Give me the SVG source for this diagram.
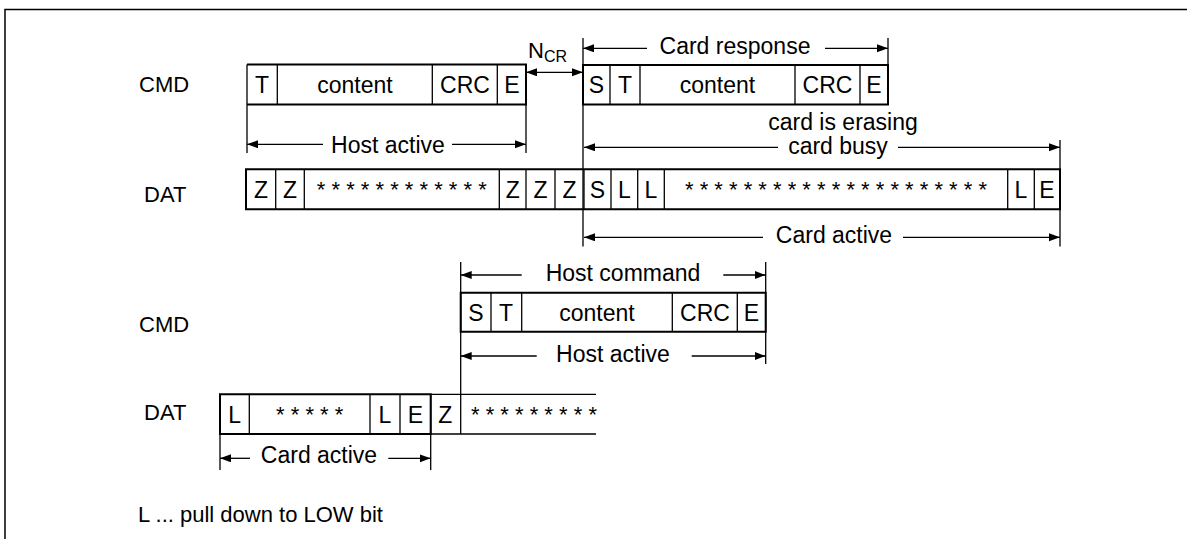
<svg xmlns="http://www.w3.org/2000/svg" width="1187" height="539" viewBox="0 0 1187 539">
<style>
text{font-family:"Liberation Sans",Arial,sans-serif;font-size:22px;fill:#000}
.c{text-anchor:middle}
.al{font-size:23px}
.bx{font-size:23px}
.box{fill:none;stroke:#000;stroke-width:2}
.div{stroke:#000;stroke-width:1.3}
.ln{stroke:#000;stroke-width:1.3;fill:none}
.frame{stroke:#000;stroke-width:1.5;fill:none}
.sub{font-size:16px}
</style>
<defs>
<marker id="ah" markerUnits="userSpaceOnUse" markerWidth="12" markerHeight="10" refX="11" refY="4" orient="auto-start-reverse">
<path d="M0,0 L11,4 L0,8 z" fill="#000"/>
</marker>
</defs>
<rect width="1187" height="539" fill="#fff"/>
<path class="frame" d="M5,539 V9.5 H1187"/>

<g id="labels">
<text x="139" y="91.7">CMD</text>
<text x="144" y="201.7">DAT</text>
<text x="139" y="331.7">CMD</text>
<text x="144" y="420">DAT</text>
<text x="138" y="521.7">L ... pull down to LOW bit</text>
</g>

<g id="cmd1">
<path class="ln" d="M247,64.5 V153 M526,64.5 V153"/>
<path class="box" d="M247,64.5 H526 V104.5 H247"/>
<path class="div" d="M277.3,64.5 V104.5 M432.3,64.5 V104.5 M497.3,64.5 V104.5"/>
<text class="c bx" x="262" y="93">T</text>
<text class="c bx" x="355" y="93">content</text>
<text class="c bx" x="465" y="93">CRC</text>
<text class="c bx" x="512" y="93">E</text>
</g>

<g id="ncr">
<text x="528" y="58.3">N<tspan class="sub" dy="3.4">CR</tspan></text>
</g>

<g id="cmd2">
<path class="ln" d="M583,38 V246.5 M888,38 V104.5"/>
<path class="box" d="M583,65 H888 V104.5 H583 Z"/>
<path class="div" d="M610,65 V104.5 M640,65 V104.5 M795,65 V104.5 M860,65 V104.5"/>
<text class="c bx" x="596.5" y="93">S</text>
<text class="c bx" x="625" y="93">T</text>
<text class="c bx" x="717.5" y="93">content</text>
<text class="c bx" x="827.5" y="93">CRC</text>
<text class="c bx" x="874" y="93">E</text>
</g>

<g id="dat1">
<path class="ln" d="M1060,140 V246.5"/>
<path class="box" d="M246,169.3 H1060 V209.3 H246 Z"/>
<path class="div" d="M275.7,169.3 V209.3 M304.3,169.3 V209.3 M499.3,169.3 V209.3 M526,169.3 V209.3 M555,169.3 V209.3 M584,169.3 V209.3 M611,169.3 V209.3 M637.7,169.3 V209.3 M664.3,169.3 V209.3 M1007.7,169.3 V209.3 M1034.3,169.3 V209.3"/>
<text class="c bx" x="261" y="197.5">Z</text>
<text class="c bx" x="290" y="197.5">Z</text>
<text class="c" x="401.8" y="197">* * * * * * * * * * * *</text>
<text class="c bx" x="512.7" y="197.5">Z</text>
<text class="c bx" x="540.5" y="197.5">Z</text>
<text class="c bx" x="569.5" y="197.5">Z</text>
<text class="c bx" x="597.5" y="197.5">S</text>
<text class="c bx" x="624.3" y="197.5">L</text>
<text class="c bx" x="651" y="197.5">L</text>
<text class="c" x="836" y="197">* * * * * * * * * * * * * * * * * * * * *</text>
<text class="c bx" x="1021" y="197.5">L</text>
<text class="c bx" x="1047" y="197.5">E</text>
</g>

<g id="cmd3">
<path class="ln" d="M460.7,262 V434 M765.7,262 V364"/>
<path class="box" d="M460.7,292.7 H765.7 V331.7 H460.7 Z"/>
<path class="div" d="M491,292.7 V331.7 M521.7,292.7 V331.7 M672.3,292.7 V331.7 M737.3,292.7 V331.7"/>
<text class="c bx" x="476" y="320.5">S</text>
<text class="c bx" x="506" y="320.5">T</text>
<text class="c bx" x="597" y="320.5">content</text>
<text class="c bx" x="705" y="320.5">CRC</text>
<text class="c bx" x="751.5" y="320.5">E</text>
</g>

<g id="dat2">
<path class="ln" d="M220,394.3 V470 M430.7,394.3 V470"/>
<path class="box" d="M220,394.3 H430.7 V434 H220 Z"/>
<path class="ln" d="M430.7,394.3 H596 M430.7,434 H596"/>
<path class="div" d="M249.3,394.3 V434 M370,394.3 V434 M400,394.3 V434"/>
<text class="c bx" x="234.7" y="422.5">L</text>
<text class="c" x="309.7" y="422">* * * * *</text>
<text class="c bx" x="385" y="422.5">L</text>
<text class="c bx" x="415.3" y="422.5">E</text>
<text class="c bx" x="445.3" y="422.5">Z</text>
<text x="471" y="422">* * * * * * * * *</text>
</g>

<g id="connectors">
<line class="ln" x1="247" y1="144.3" x2="323" y2="144.3" marker-start="url(#ah)"/>
<line class="ln" x1="452" y1="144.3" x2="526" y2="144.3" marker-end="url(#ah)"/>
<line class="ln" x1="526" y1="72.3" x2="583" y2="72.3" marker-start="url(#ah)" marker-end="url(#ah)"/>
<line class="ln" x1="583" y1="48.3" x2="647" y2="48.3" marker-start="url(#ah)"/>
<line class="ln" x1="825" y1="48.3" x2="888" y2="48.3" marker-end="url(#ah)"/>
<line class="ln" x1="584" y1="147.3" x2="778" y2="147.3" marker-start="url(#ah)"/>
<line class="ln" x1="898" y1="147.3" x2="1060" y2="147.3" marker-end="url(#ah)"/>
<line class="ln" x1="584" y1="237.3" x2="763" y2="237.3" marker-start="url(#ah)"/>
<line class="ln" x1="903" y1="237.3" x2="1060" y2="237.3" marker-end="url(#ah)"/>
<line class="ln" x1="460.7" y1="275" x2="521.7" y2="275" marker-start="url(#ah)"/>
<line class="ln" x1="723.3" y1="275" x2="765.7" y2="275" marker-end="url(#ah)"/>
<line class="ln" x1="460.7" y1="356" x2="536.7" y2="356" marker-start="url(#ah)"/>
<line class="ln" x1="691.7" y1="356" x2="765.7" y2="356" marker-end="url(#ah)"/>
<line class="ln" x1="220" y1="458.3" x2="250" y2="458.3" marker-start="url(#ah)"/>
<line class="ln" x1="388.3" y1="458.3" x2="430.7" y2="458.3" marker-end="url(#ah)"/>
</g>

<g id="arrow-labels">
<text class="c al" x="388" y="152.5">Host active</text>
<text class="c al" x="735" y="54">Card response</text>
<text class="c al" x="843" y="129.5">card is erasing</text>
<text class="c al" x="838" y="154">card busy</text>
<text class="c al" x="834" y="242.7">Card active</text>
<text class="c al" x="623" y="280.7">Host command</text>
<text class="c al" x="613" y="361.7">Host active</text>
<text class="c al" x="319" y="463.3">Card active</text>
</g>
</svg>
